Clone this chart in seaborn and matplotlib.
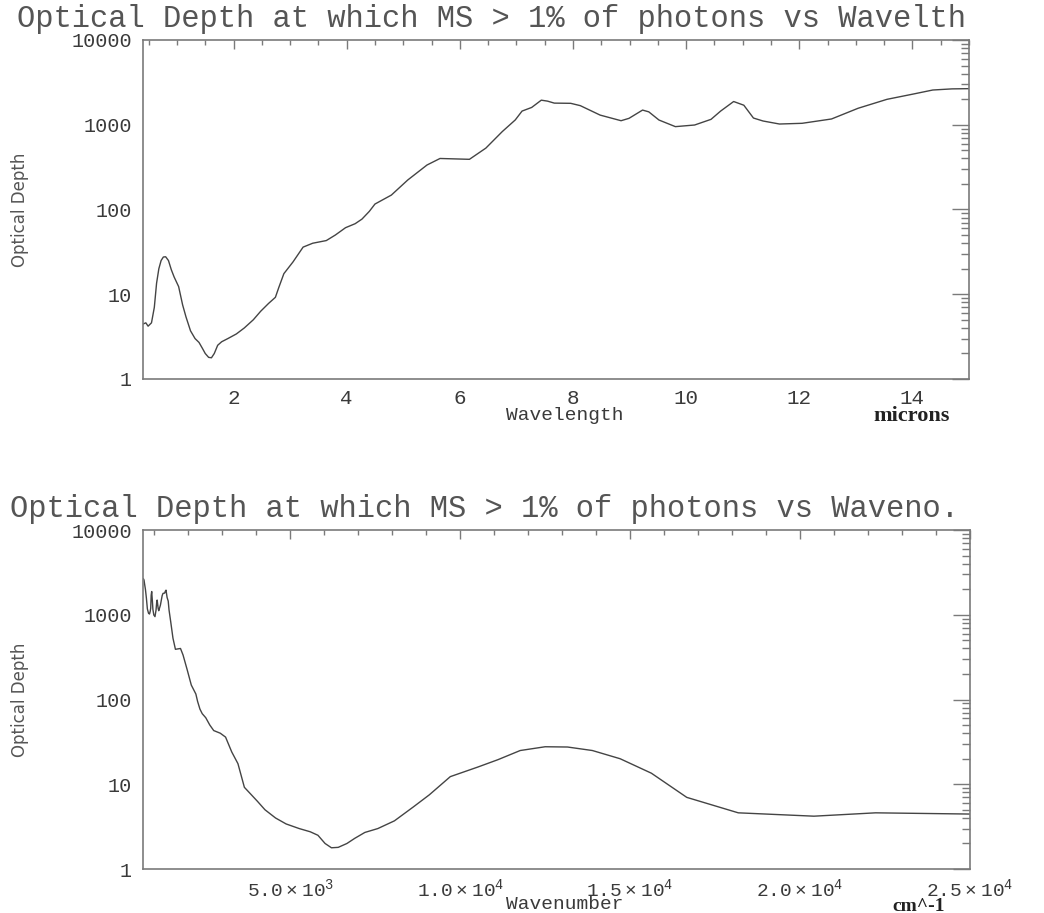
import numpy as np
import pandas as pd
import seaborn as sns
import matplotlib.pyplot as plt
from matplotlib.ticker import MultipleLocator, LogLocator, FixedLocator, FixedFormatter, NullFormatter

# optical depth at which multiple scattering > 1% of photons
wavelength = [0.40, 0.45, 0.49, 0.55, 0.60, 0.64, 0.68, 0.72, 0.76, 0.80,
              0.85, 0.90, 0.95, 1.03, 1.10, 1.16, 1.24, 1.32, 1.39, 1.45,
              1.50, 1.56, 1.61, 1.66, 1.72, 1.79, 1.90, 2.05, 2.19, 2.35,
              2.48, 2.62, 2.74, 2.80, 2.89, 3.05, 3.23, 3.40, 3.64, 3.80,
              3.98, 4.15, 4.27, 4.40, 4.50, 4.79, 5.08, 5.42, 5.65, 5.88,
              6.17, 6.46, 6.75, 6.98, 7.10, 7.27, 7.44, 7.55, 7.67, 7.96,
              8.13, 8.48, 8.85, 8.99, 9.23, 9.34, 9.52, 9.81, 10.15, 10.44,
              10.61, 10.84, 11.02, 11.19, 11.36, 11.65, 12.05, 12.57, 13.04, 13.55,
              14.02, 14.36, 14.70, 15.0]
depth = [4.45, 4.6, 4.2, 4.6, 7.0, 13.5, 20, 25, 27.5, 27.7,
         25, 19.5, 16, 12.3, 7.5, 5.4, 3.7, 3.0, 2.7, 2.3,
         2.0, 1.8, 1.78, 2.0, 2.5, 2.75, 3.0, 3.4, 4.0, 5.0,
         6.3, 7.8, 9.2, 12, 17.5, 24, 36, 40, 43, 50,
         61, 68, 77, 95, 116, 148, 223, 335, 400, 396,
         391, 530, 830, 1140, 1450, 1600, 1950, 1900, 1800, 1790,
         1680, 1300, 1116, 1190, 1490, 1420, 1137, 950, 993, 1158,
         1450, 1880, 1700, 1200, 1107, 1020, 1040, 1170, 1565, 1995,
         2307, 2570, 2650, 2666]
# same data against wavenumber (cm^-1)
wavenumber = [1e4 / w for w in wavelength]

ytick_vals = [1, 10, 100, 1000, 10000]
ytick_labels = ['1', '10', '100', '1000', '10000']
top_xticks = [2, 4, 6, 8, 10, 12, 14]
bot_xticks = [5000, 10000, 15000, 20000, 25000]
bot_xlabels = [r'$\mathregular{5.0\times10^{3}}$', r'$\mathregular{1.0\times10^{4}}$',
               r'$\mathregular{1.5\times10^{4}}$', r'$\mathregular{2.0\times10^{4}}$',
               r'$\mathregular{2.5\times10^{4}}$']

sns.set_theme(style='white')
plt.rcParams['font.family'] = ['Liberation Mono', 'DejaVu Sans Mono']
plt.rcParams['mathtext.fontset'] = 'custom'
plt.rcParams['mathtext.rm'] = 'Liberation Mono'

df_top = pd.DataFrame({'Wavelength': wavelength, 'Depth': depth})
df_bot = pd.DataFrame({'Wavenumber': wavenumber, 'Depth': depth})

W, H = 1044, 913
fig = plt.figure(figsize=(W / 100, H / 100), dpi=100)
ax1 = fig.add_axes([143/W, 1 - 379/H, 826/W, 339/H])
ax2 = fig.add_axes([143/W, 1 - 869/H, 827/W, 339/H])

axcol = '#7a7a7a'
txtcol = '#3a3a3a'

sns.lineplot(data=df_top, x='Wavelength', y='Depth', ax=ax1, color='#444444', linewidth=1.0)
sns.lineplot(data=df_bot, x='Wavenumber', y='Depth', ax=ax2, color='#444444', linewidth=1.0,
             sort=False)

for ax in [ax1, ax2]:
    ax.set_yscale('log')
    ax.set_ylim(1, 10000)
    ax.yaxis.set_major_locator(FixedLocator(ytick_vals))
    ax.yaxis.set_major_formatter(FixedFormatter(ytick_labels))
    ax.yaxis.set_minor_locator(LogLocator(base=10, subs=np.arange(2, 10)))
    ax.yaxis.set_minor_formatter(NullFormatter())
    for s in ax.spines.values():
        s.set_color(axcol)
        s.set_linewidth(1.2)
    ax.tick_params(which='both', direction='in', top=True, right=True,
                   color=axcol, width=1.0, labelcolor=txtcol, labelsize=15)
    ax.tick_params(axis='y', which='major', length=12, pad=8, labelsize=14.5)
    ax.tick_params(axis='y', which='minor', length=6)
    ax.tick_params(axis='x', which='major', length=6.5, pad=7)
    ax.tick_params(axis='x', which='minor', length=3.5)
    ax.set_ylabel('Optical Depth', family=['DejaVu Sans'], fontsize=12, color='#555555')
    ax.yaxis.set_label_coords(-0.149, 0.5)
    ax.yaxis.label.set_verticalalignment('center')

# titles sit at the figure's left edge, wider than the axes
fig.text(17/W, 1 - 27/H, 'Optical Depth at which MS > 1% of photons vs Wavelth',
         ha='left', va='baseline', fontsize=22, color='#555555')
fig.text(10/W, 1 - 517/H, 'Optical Depth at which MS > 1% of photons vs Waveno.',
         ha='left', va='baseline', fontsize=22, color='#555555')

ax1.set_xlim(0.4, 15)
ax1.xaxis.set_major_locator(FixedLocator(top_xticks))
ax1.xaxis.set_minor_locator(MultipleLocator(0.5))
ax1.set_xlabel('Wavelength', fontsize=14, color=txtcol)
ax1.xaxis.set_label_coords(0.51, -36/339)
ax1.xaxis.label.set_verticalalignment('center')

ax2.set_xlim(1e4 / 15, 25000)
ax2.xaxis.set_major_locator(FixedLocator(bot_xticks))
ax2.xaxis.set_major_formatter(FixedFormatter(bot_xlabels))
ax2.xaxis.set_minor_locator(MultipleLocator(1000))
ax2.tick_params(axis='x', labelsize=14, pad=6)
ax2.set_xlabel('Wavenumber', fontsize=14, color=txtcol)
ax2.xaxis.set_label_coords(0.51, -35/339)
ax2.xaxis.label.set_verticalalignment('center')

fig.text(950/W, 1 - 416/H, 'microns', ha='right', va='center',
         fontsize=16, fontweight='bold', color='#222222', family='Liberation Serif')
fig.text(945/W, 1 - 906/H, 'cm^-1', ha='right', va='center',
         fontsize=14, fontweight='bold', color='#222222', family='Liberation Serif')

fig.savefig('out.png', dpi=100, facecolor='white')
